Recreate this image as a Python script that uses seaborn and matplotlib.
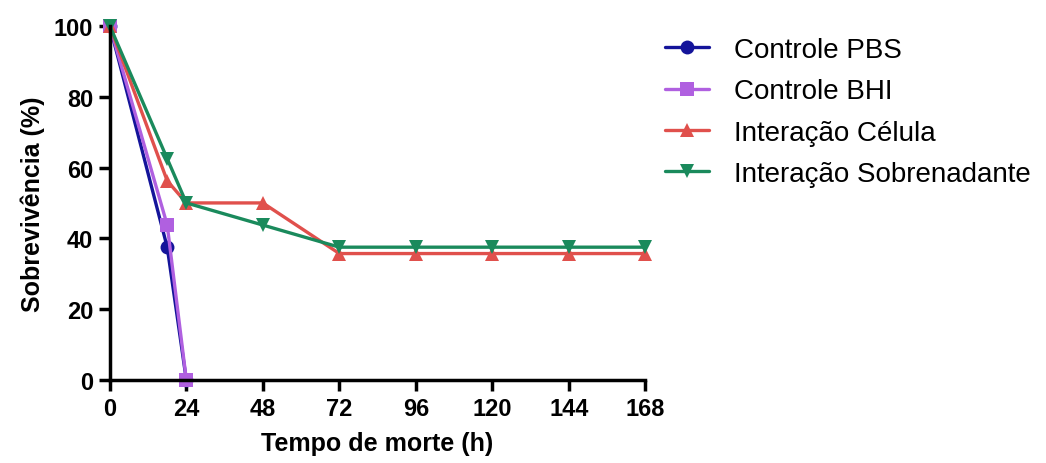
import pandas as pd
import matplotlib
matplotlib.use("Agg")
import matplotlib.pyplot as plt
import seaborn as sns

# valores
tempo_controle = [0, 18, 24]
controle_pbs = [100, 37.5, 0]
controle_bhi = [100, 43.75, 0]
tempo_interacao = [0, 18, 24, 48, 72, 96, 120, 144, 168]
interacao_celula = [100, 56.25, 50, 50, 35.7, 35.7, 35.7, 35.7, 35.7]
interacao_sobrenadante = [100, 62.5, 50, 43.75, 37.5, 37.5, 37.5, 37.5, 37.5]

grupos = ["Controle PBS", "Controle BHI", "Interação Célula", "Interação Sobrenadante"]
cores = ["#14149a", "#b060e0", "#e0504c", "#1a8a5c"]
marcadores = ["o", "s", "^", "v"]

# monta tabela longa
frames = []
for nome, t, v in zip(grupos,
                      [tempo_controle, tempo_controle, tempo_interacao, tempo_interacao],
                      [controle_pbs, controle_bhi, interacao_celula, interacao_sobrenadante]):
    frames.append(pd.DataFrame({"tempo": t, "sobrevivencia": v, "grupo": nome}))
df = pd.concat(frames, ignore_index=True)

sns.set_style("ticks")
plt.rcParams["font.family"] = ["Liberation Sans", "DejaVu Sans"]

fig = plt.figure(figsize=(10.46, 4.64), dpi=100)
ax = fig.add_axes([0.105, 0.179, 0.512, 0.763])

sns.lineplot(data=df, x="tempo", y="sobrevivencia", hue="grupo", style="grupo",
             hue_order=grupos, style_order=grupos,
             palette=dict(zip(grupos, cores)), markers=dict(zip(grupos, marcadores)),
             dashes=False, linewidth=2.4, markersize=10, markeredgewidth=0,
             clip_on=False, ax=ax)

ax.set_xlim(0, 168)
ax.set_ylim(0, 100)
ax.set_xticks(range(0, 169, 24))
ax.set_yticks(range(0, 101, 20))
ax.set_xlabel("Tempo de morte (h)", fontsize=18, fontweight="bold", labelpad=8)
ax.set_ylabel("Sobrevivência (%)", fontsize=18, fontweight="bold", labelpad=6)
for lbl in ax.get_xticklabels() + ax.get_yticklabels():
    lbl.set_fontweight("bold")
ax.tick_params(axis="both", labelsize=17, length=8, width=2.5, direction="out",
               color="black", labelcolor="black", pad=4)
for s in ["left", "bottom"]:
    ax.spines[s].set_linewidth(2.5)
    ax.spines[s].set_color("black")
sns.despine(ax=ax)
ax.xaxis.label.set_color("black")
ax.yaxis.label.set_color("black")

leg = ax.legend(loc="upper left", bbox_to_anchor=(1.015, 1.0), frameon=False,
                fontsize=20, handlelength=1.6, labelspacing=0.55, handletextpad=0.9,
                borderaxespad=0)
for txt in leg.get_texts():
    txt.set_color("black")

fig.savefig("out.png", dpi=100)
